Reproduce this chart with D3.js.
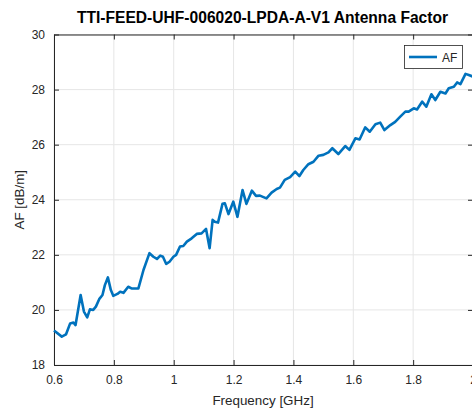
<!DOCTYPE html>
<html>
<head>
<meta charset="utf-8">
<script src="https://cdn.jsdelivr.net/npm/d3@7"></script>
<style>
body { margin: 0; background: #fff; }
svg text { font-family: "Liberation Sans", Arial, sans-serif; fill: #262626; }
</style>
</head>
<body>
<div id="chart-area"></div>
<script>
var width = 472;
var height = 410;

// values
var freq = [0.600, 0.626, 0.640, 0.654, 0.665, 0.672, 0.689, 0.700, 0.711, 0.720,
    0.731, 0.740, 0.751, 0.762, 0.770, 0.780, 0.790, 0.798, 0.812, 0.821,
    0.832, 0.848, 0.859, 0.870, 0.882, 0.899, 0.919, 0.932, 0.944, 0.955,
    0.964, 0.975, 0.986, 0.999, 1.008, 1.021, 1.032, 1.044, 1.060, 1.077,
    1.093, 1.108, 1.120, 1.130, 1.137, 1.148, 1.163, 1.171, 1.183, 1.199,
    1.213, 1.230, 1.243, 1.261, 1.275, 1.288, 1.310, 1.327, 1.344, 1.355,
    1.371, 1.389, 1.406, 1.420, 1.433, 1.450, 1.467, 1.484, 1.500, 1.517,
    1.530, 1.550, 1.573, 1.587, 1.607, 1.621, 1.640, 1.655, 1.674, 1.690,
    1.704, 1.724, 1.740, 1.757, 1.774, 1.785, 1.802, 1.813, 1.830, 1.844,
    1.861, 1.874, 1.891, 1.908, 1.919, 1.936, 1.947, 1.958, 1.975, 1.986, 2.000];
var af = [19.25, 19.03, 19.11, 19.51, 19.54, 19.45, 20.54, 19.94, 19.73, 20.02,
    20.00, 20.12, 20.39, 20.54, 20.90, 21.18, 20.72, 20.51, 20.58, 20.66,
    20.62, 20.84, 20.78, 20.78, 20.78, 21.45, 22.06, 21.93, 21.85, 21.97,
    21.93, 21.67, 21.75, 21.93, 22.00, 22.30, 22.32, 22.48, 22.60, 22.76,
    22.78, 22.94, 22.24, 23.27, 23.20, 23.17, 23.85, 23.87, 23.48, 23.93,
    23.38, 24.35, 23.85, 24.33, 24.14, 24.15, 24.05, 24.26, 24.39, 24.44,
    24.72, 24.82, 25.02, 24.86, 25.08, 25.29, 25.38, 25.60, 25.63, 25.72,
    25.87, 25.66, 25.95, 25.81, 26.23, 26.19, 26.63, 26.47, 26.74, 26.80,
    26.53, 26.71, 26.83, 27.02, 27.20, 27.20, 27.32, 27.28, 27.56, 27.38,
    27.83, 27.62, 27.92, 27.86, 28.05, 28.10, 28.26, 28.20, 28.57, 28.53, 28.47];
var xTicks = [0.6, 0.8, 1, 1.2, 1.4, 1.6, 1.8, 2];
var yTicks = [18, 20, 22, 24, 26, 28, 30];

var margin = {top: 34.5, right: -1, bottom: 45, left: 54};
var plotW = width - margin.left - margin.right;
var plotH = height - margin.top - margin.bottom;

var svg = d3.select("#chart-area").append("svg")
    .attr("width", width)
    .attr("height", height);

var g = svg.append("g")
    .attr("transform", "translate(" + margin.left + "," + margin.top + ")");

var x = d3.scaleLinear().domain([0.6, 2]).range([0, plotW]);
var y = d3.scaleLinear().domain([18, 30]).range([plotH, 0]);

// grid
g.selectAll(".xgrid")
    .data(xTicks)
    .enter()
    .append("line")
    .attr("x1", function(d) { return x(d); })
    .attr("x2", function(d) { return x(d); })
    .attr("y1", 0)
    .attr("y2", plotH)
    .attr("stroke", "#e6e6e6")
    .attr("stroke-width", 1);

g.selectAll(".ygrid")
    .data(yTicks)
    .enter()
    .append("line")
    .attr("x1", 0)
    .attr("x2", plotW)
    .attr("y1", function(d) { return y(d); })
    .attr("y2", function(d) { return y(d); })
    .attr("stroke", "#e6e6e6")
    .attr("stroke-width", 1);

// axes, box style with inward ticks
var fmt = function(d) { return d3.format("")(d); };

var xAxis = g.append("g")
    .attr("transform", "translate(0," + plotH + ")")
    .call(d3.axisBottom(x).tickValues(xTicks).tickSizeInner(-5).tickSizeOuter(0).tickPadding(10).tickFormat(fmt));
var xTop = g.append("g")
    .call(d3.axisTop(x).tickValues(xTicks).tickSizeInner(-5).tickSizeOuter(0).tickFormat(""));
var yAxis = g.append("g")
    .call(d3.axisLeft(y).tickValues(yTicks).tickSizeInner(-5).tickSizeOuter(0).tickPadding(9).tickFormat(fmt));
var yRight = g.append("g")
    .attr("transform", "translate(" + plotW + ",0)")
    .call(d3.axisRight(y).tickValues(yTicks).tickSizeInner(-5).tickSizeOuter(0).tickFormat(""));

[xAxis, xTop, yAxis, yRight].forEach(function(a) {
    a.select(".domain").attr("stroke", "#262626").attr("stroke-width", 1);
    a.selectAll(".tick line").attr("stroke", "#262626");
    a.selectAll("text").attr("font-size", 12).attr("fill", "#262626")
        .style("font-family", "'Liberation Sans', Arial, sans-serif");
});

// data line
var line = d3.line()
    .x(function(d, i) { return x(freq[i]); })
    .y(function(d) { return y(d); });

g.append("path")
    .datum(af)
    .attr("d", line)
    .attr("fill", "none")
    .attr("stroke", "#0072BD")
    .attr("stroke-width", 2.6)
    .attr("stroke-linejoin", "round");

// legend
var legend = svg.append("g");
legend.append("rect")
    .attr("x", 404.5)
    .attr("y", 45.5)
    .attr("width", 58)
    .attr("height", 23)
    .attr("fill", "#fff")
    .attr("stroke", "#262626")
    .attr("stroke-width", 0.8);
legend.append("line")
    .attr("x1", 409)
    .attr("x2", 437)
    .attr("y1", 57)
    .attr("y2", 57)
    .attr("stroke", "#0072BD")
    .attr("stroke-width", 2.6);
legend.append("text")
    .attr("x", 442)
    .attr("y", 61.5)
    .attr("font-size", 12)
    .text("AF");

// title and labels
svg.append("text")
    .attr("x", 262.5)
    .attr("y", 22.5)
    .attr("text-anchor", "middle")
    .attr("font-size", 15.6)
    .attr("font-weight", "bold")
    .style("fill", "#000")
    .text("TTI-FEED-UHF-006020-LPDA-A-V1 Antenna Factor");

svg.append("text")
    .attr("x", 263)
    .attr("y", 405)
    .attr("text-anchor", "middle")
    .attr("font-size", 13.4)
    .text("Frequency [GHz]");

svg.append("text")
    .attr("transform", "translate(24," + (margin.top + plotH / 2) + ") rotate(-90)")
    .attr("text-anchor", "middle")
    .attr("font-size", 13.4)
    .text("AF [dB/m]");
</script>
</body>
</html>
